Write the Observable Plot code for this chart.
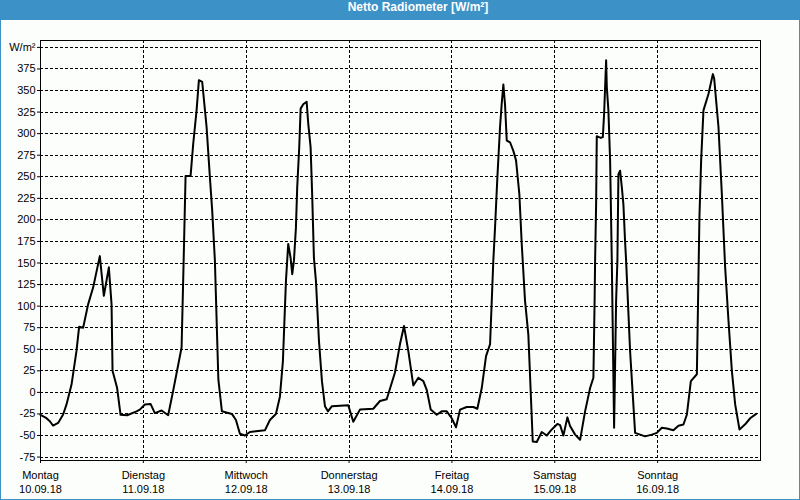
<!DOCTYPE html>
<html>
<head>
<meta charset="utf-8">
<script src="https://cdn.jsdelivr.net/npm/d3@7"></script>
<script src="https://cdn.jsdelivr.net/npm/@observablehq/plot@0.6"></script>
<style>
  html, body { margin: 0; padding: 0; background: #fcfefc; }
  #wrap { width: 800px; height: 500px; position: relative; overflow: hidden; background: #fcfefc; }
  #title { height: 20px; line-height: 20px; background: #3c91c6; color: #fff; font: bold 12px "Liberation Sans", sans-serif;
           text-align: center; padding-left: 36px; box-sizing: border-box; }
  #chart { width: 800px; height: 480px; box-sizing: border-box; border-left: 1px solid #3c91c6; border-right: 1px solid #3c91c6; border-bottom: 1px solid #3c91c6; }
  #chart svg { display: block; background: #fcfefc; }
</style>
</head>
<body>
<div id="wrap">
  <div id="title">Netto Radiometer [W/m²]</div>
  <div id="chart"></div>
</div>
<script>
// Hours since Montag 10.09.18 00:00
const hours = [0,1.4,2.17,2.94,4.11,5.28,6.07,7.24,8.4,9.01,
  9.95,11.11,12.28,13.84,14.78,15.95,16.58,16.81,17.88,18.68,
  20.22,22.41,23.18,24.35,25.68,26.68,28.25,29.79,30.96,32.92,
  33.34,33.85,35.02,35.63,36.42,36.96,37.73,38.75,39.53,40.06,
  40.69,41.5,42.33,44.66,45.6,46.53,47.69,48.86,50.26,52.36,
  53.53,54.93,55.86,56.56,57.27,57.8,58.36,58.74,59.14,59.6,
  59.9,60.37,60.7,61.31,62.1,62.47,63.03,63.41,63.8,64.27,
  64.97,65.67,66.37,67.07,68.0,71.81,72.98,74.54,77.65,79.21,
  80.78,82.71,83.88,84.82,85.82,86.99,88.16,89.33,90.12,91.05,
  92.45,93.62,94.79,95.95,96.96,97.89,99.45,100.99,101.93,102.96,
  103.96,104.9,105.66,106.06,106.6,107.23,107.62,108.0,108.4,108.79,
  109.56,110.33,110.96,111.73,112.29,113.06,113.83,114.86,115.79,116.96,
  118.13,119.3,120.6,121.24,122.01,122.94,123.57,124.74,125.91,127.07,
  128.24,129.01,129.29,129.41,129.65,129.8,130.74,131.21,131.51,131.98,
  132.14,132.51,132.91,133.3,133.84,134.31,134.61,134.85,135.24,135.64,
  136.01,136.41,136.64,137.57,138.74,139.91,141.07,142.64,143.81,144.98,
  146.14,147.68,148.85,150.02,150.81,151.75,153.15,153.75,154.15,154.69,
  155.86,156.88,157.19,158.19,158.98,159.75,160.53,161.32,162.09,163.09,
  164.42,165.59,166.99];

// Netto radiation, W/m²
const values = [-26,-30,-33.5,-38.5,-35.5,-25.7,-14,9,48,76,
  75,102,121.5,158,112,145,102,25,5,-26,
  -26.5,-22,-20,-14,-13.4,-24,-21,-26.5,2,52,
  140,251,251,288,327,362,360,308,249,211,
  153,15,-22,-25,-32,-48,-50,-46,-45,-44,
  -32,-25,-5,36,129,172,156,137,153,191,
  238,284,329,334,337,312,284,226,156,129,
  60,13,-16,-22,-16,-15,-34,-20,-19,-10,
  -8,23,56,77,48,8,17,13,3,-20,
  -26,-22,-22,-30,-40.5,-20,-17,-17,-19,5,
  42,56,153,191,249,308,335,357,333,292,
  290,280,269,230,172,106,67,-57,-57.5,-46,
  -50,-43,-36.6,-38,-50,-29,-39,-49,-55,-22,
  5,17,106,153,220,297,295,296,323,385,
  354,327,269,153,-41,106,153,253,257,238,
  218,174,153,48,-47,-49,-51,-49,-47,-41,
  -42,-44,-38.6,-37.3,-26,13,21,203,269,327,
  346,369,364,308,230,145,83,25,-14,-43,
  -37,-30,-25];

const dayNames = ["Montag","Dienstag","Mittwoch","Donnerstag","Freitag","Samstag","Sonntag"];
const dayDates = ["10.09.18","11.09.18","12.09.18","13.09.18","14.09.18","15.09.18","16.09.18"];
const yTicks = [-75,-50,-25,0,25,50,75,100,125,150,175,200,225,250,275,300,325,350,375,400];
const yUnitLabel = "W/m²";

const start = Date.UTC(2018, 8, 10);
const H = 3600e3;
const data = hours.map((h, i) => ({t: new Date(start + h * H), v: values[i]}));
const dayTicks = dayNames.map((_, i) => new Date(start + i * 24 * H));
const gridDays = dayTicks.slice(1);
const end = new Date(start + 7 * 24 * H);
const labelOf = new Map(dayTicks.map((d, i) => [+d, dayNames[i] + "\n" + dayDates[i]]));

const font = "Liberation Sans, sans-serif";
const chart = Plot.plot({
  width: 798, height: 479,
  marginLeft: 39, marginRight: 39, marginTop: 20, marginBottom: 39,
  style: {fontFamily: font, fontSize: "11px", color: "#000", background: "#fcfefc"},
  x: {type: "utc", domain: [new Date(start), end], axis: null},
  y: {domain: [-79, 408], axis: null},
  marks: [
    Plot.ruleY(yTicks, {stroke: "#000", strokeWidth: 1, strokeDasharray: "3,2", shapeRendering: "crispEdges"}),
    Plot.ruleX(gridDays, {stroke: "#000", strokeWidth: 1, strokeDasharray: "3,2", shapeRendering: "crispEdges"}),
    Plot.line(data, {x: "t", y: "v", stroke: "#000", strokeWidth: 2, curve: "linear"}),
    Plot.frame({stroke: "#000", shapeRendering: "crispEdges"}),
    Plot.axisY(yTicks, {label: null, tickSize: 3, tickPadding: 2, fontSize: 11,
      tickFormat: d => d === 400 ? yUnitLabel : String(d)}),
    Plot.axisX(dayTicks, {label: null, tickSize: 3, tickPadding: 5, fontSize: 11, lineHeight: 1.3,
      tickFormat: d => labelOf.get(+d)})
  ]
});
document.getElementById("chart").appendChild(chart);
</script>
</body>
</html>
